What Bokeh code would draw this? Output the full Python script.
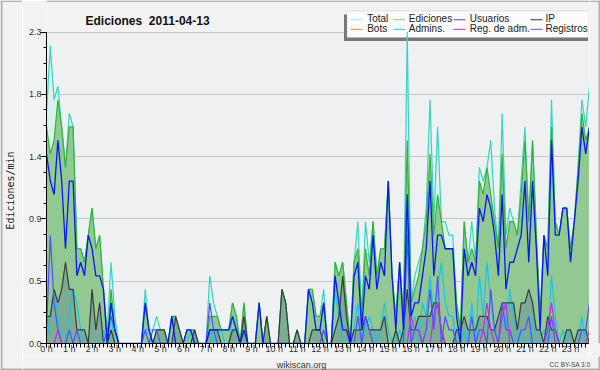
from math import pi
from bokeh.plotting import figure
from bokeh.layouts import row, column
from bokeh.models import Label, BoxAnnotation, FixedTicker, Range1d, PrintfTickFormatter
from bokeh.embed import file_html
from bokeh.resources import INLINE

# 10-minute slots across the day, in hours
slots = [i / 6 for i in range(144)]
hour_ticks = list(range(24))
hour_labels = [f"{h} h" for h in hour_ticks]
y_ticks = [0.0, 0.46, 0.92, 1.38, 1.84, 2.3]
y_minor = [i * 0.115 for i in range(21)]

title_text = "Ediciones\u00a0 2011-04-13"
y_label = "Ediciones/min"
site_text = "wikiscan.org"
licence_text = "CC BY-SA 3.0"

total = [1.7, 2.2, 1.8, 1.9, 1.6, 1.3, 1.7, 1.6, 0.7, 0.7,
         0.6, 0.8, 1.0, 0.7, 0.8, 0.4, 0.1, 0.6, 0.2, 0.0,
         0.0, 0.0, 0.0, 0.0, 0.0, 0.0, 0.4, 0.1, 0.1, 0.2,
         0.1, 0.1, 0.0, 0.2, 0.2, 0.1, 0.0, 0.1, 0.1, 0.1,
         0.0, 0.0, 0.0, 0.5, 0.3, 0.2, 0.1, 0.1, 0.1, 0.3,
         0.2, 0.0, 0.3, 0.0, 0.0, 0.0, 0.3, 0.0, 0.2, 0.0,
         0.0, 0.0, 0.4, 0.3, 0.0, 0.0, 0.1, 0.0, 0.0, 0.4,
         0.4, 0.2, 0.2, 0.4, 0.0, 0.0, 0.6, 0.5, 0.6, 0.3,
         0.0, 0.6, 0.9, 0.2, 0.9, 0.6, 0.9, 0.5, 0.7, 0.7,
         1.2, 0.5, 0.2, 0.6, 0.2, 2.3, 0.3, 0.5, 0.6, 0.7,
         1.0, 1.8, 0.9, 1.6, 0.9, 0.9, 0.8, 0.8, 0.3, 0.1,
         0.9, 0.6, 0.9, 0.6, 1.3, 1.2, 1.3, 1.5, 1.0, 0.7,
         1.7, 0.8, 1.0, 0.9, 0.8, 1.2, 1.6, 0.9, 1.5, 0.8,
         0.2, 0.8, 0.7, 1.8, 0.9, 0.8, 1.0, 1.0, 0.7, 0.9,
         1.3, 1.8, 1.6, 1.9]

edits = [1.6, 1.4, 1.5, 1.8, 1.6, 1.3, 1.6, 1.6, 0.7, 0.7,
         0.6, 0.8, 1.0, 0.7, 0.8, 0.4, 0.0, 0.4, 0.1, 0.0,
         0.0, 0.0, 0.0, 0.0, 0.0, 0.0, 0.3, 0.1, 0.0, 0.1,
         0.1, 0.1, 0.0, 0.2, 0.2, 0.1, 0.0, 0.1, 0.1, 0.1,
         0.0, 0.0, 0.0, 0.2, 0.2, 0.2, 0.1, 0.1, 0.1, 0.3,
         0.2, 0.0, 0.3, 0.0, 0.0, 0.0, 0.3, 0.0, 0.2, 0.0,
         0.0, 0.0, 0.4, 0.3, 0.0, 0.0, 0.1, 0.0, 0.0, 0.4,
         0.4, 0.2, 0.2, 0.3, 0.0, 0.0, 0.6, 0.5, 0.6, 0.3,
         0.0, 0.6, 0.7, 0.2, 0.7, 0.5, 0.9, 0.5, 0.7, 0.7,
         1.2, 0.5, 0.2, 0.6, 0.2, 1.5, 0.3, 0.4, 0.5, 0.7,
         0.9, 1.4, 0.8, 1.1, 0.9, 0.7, 0.7, 0.7, 0.3, 0.1,
         0.9, 0.6, 0.7, 0.6, 1.2, 1.1, 1.3, 1.1, 0.9, 0.7,
         1.4, 0.7, 0.9, 0.9, 0.8, 1.1, 1.5, 0.9, 1.5, 0.8,
         0.2, 0.8, 0.7, 1.6, 0.9, 0.8, 1.0, 1.0, 0.7, 0.9,
         1.3, 1.7, 1.5, 1.6]

users = [1.4, 1.2, 1.1, 1.5, 1.2, 0.7, 1.2, 1.2, 0.5, 0.6,
         0.5, 0.8, 0.7, 0.5, 0.5, 0.4, 0.0, 0.3, 0.1, 0.0,
         0.0, 0.0, 0.0, 0.0, 0.0, 0.0, 0.3, 0.1, 0.0, 0.0,
         0.0, 0.0, 0.0, 0.2, 0.0, 0.0, 0.0, 0.1, 0.1, 0.0,
         0.0, 0.0, 0.0, 0.1, 0.1, 0.1, 0.1, 0.1, 0.1, 0.2,
         0.1, 0.0, 0.1, 0.0, 0.0, 0.0, 0.3, 0.0, 0.0, 0.0,
         0.0, 0.0, 0.0, 0.0, 0.0, 0.0, 0.0, 0.0, 0.0, 0.4,
         0.3, 0.1, 0.1, 0.3, 0.0, 0.0, 0.5, 0.3, 0.1, 0.1,
         0.0, 0.5, 0.6, 0.1, 0.5, 0.4, 0.8, 0.4, 0.6, 0.5,
         1.2, 0.5, 0.1, 0.6, 0.1, 1.1, 0.2, 0.3, 0.3, 0.5,
         0.7, 1.2, 0.5, 0.8, 0.8, 0.7, 0.7, 0.7, 0.2, 0.0,
         0.7, 0.5, 0.6, 0.5, 1.0, 0.9, 1.1, 1.0, 0.8, 0.5,
         1.1, 0.4, 0.6, 0.6, 0.7, 0.8, 1.2, 0.6, 1.2, 0.7,
         0.1, 0.8, 0.5, 1.5, 0.8, 0.8, 1.0, 1.0, 0.6, 0.9,
         1.2, 1.6, 1.4, 1.6]

ip = [0.2, 0.2, 0.4, 0.3, 0.4, 0.6, 0.4, 0.4, 0.1, 0.1,
      0.1, 0.0, 0.4, 0.1, 0.3, 0.0, 0.0, 0.1, 0.0, 0.0,
      0.0, 0.0, 0.0, 0.0, 0.0, 0.0, 0.0, 0.0, 0.0, 0.1,
      0.1, 0.1, 0.0, 0.0, 0.2, 0.1, 0.0, 0.0, 0.0, 0.1,
      0.0, 0.0, 0.0, 0.1, 0.1, 0.1, 0.0, 0.0, 0.0, 0.1,
      0.1, 0.0, 0.2, 0.0, 0.0, 0.0, 0.0, 0.0, 0.2, 0.0,
      0.0, 0.0, 0.4, 0.3, 0.0, 0.0, 0.1, 0.0, 0.0, 0.0,
      0.1, 0.1, 0.1, 0.0, 0.0, 0.0, 0.1, 0.2, 0.5, 0.2,
      0.0, 0.1, 0.1, 0.1, 0.2, 0.1, 0.1, 0.1, 0.1, 0.2,
      0.0, 0.0, 0.1, 0.0, 0.1, 0.4, 0.1, 0.1, 0.2, 0.2,
      0.2, 0.2, 0.3, 0.3, 0.1, 0.0, 0.0, 0.0, 0.1, 0.1,
      0.2, 0.1, 0.1, 0.1, 0.2, 0.2, 0.2, 0.1, 0.1, 0.2,
      0.3, 0.3, 0.3, 0.3, 0.1, 0.3, 0.3, 0.4, 0.3, 0.1,
      0.1, 0.0, 0.2, 0.1, 0.1, 0.0, 0.0, 0.1, 0.1, 0.0,
      0.1, 0.1, 0.1, 0.0]

bots = [0.0, 0.0, 0.0, 0.0, 0.0, 0.0, 0.0, 0.0, 0.0, 0.0,
        0.0, 0.0, 0.0, 0.0, 0.0, 0.0, 0.0, 0.0, 0.0, 0.0,
        0.0, 0.0, 0.0, 0.0, 0.0, 0.0, 0.0, 0.0, 0.0, 0.0,
        0.0, 0.0, 0.0, 0.0, 0.0, 0.0, 0.0, 0.0, 0.0, 0.0,
        0.0, 0.0, 0.0, 0.0, 0.0, 0.0, 0.0, 0.0, 0.0, 0.0,
        0.0, 0.0, 0.0, 0.0, 0.0, 0.0, 0.0, 0.0, 0.0, 0.0,
        0.0, 0.0, 0.0, 0.0, 0.0, 0.0, 0.0, 0.0, 0.0, 0.0,
        0.0, 0.0, 0.0, 0.0, 0.0, 0.0, 0.0, 0.0, 0.0, 0.0,
        0.0, 0.0, 0.0, 0.0, 0.0, 0.0, 0.0, 0.0, 0.0, 0.0,
        0.0, 0.0, 0.0, 0.0, 0.0, 0.0, 0.0, 0.0, 0.0, 0.0,
        0.0, 0.0, 0.0, 0.0, 0.0, 0.0, 0.0, 0.0, 0.0, 0.0,
        0.0, 0.0, 0.0, 0.0, 0.0, 0.0, 0.0, 0.0, 0.0, 0.0,
        0.0, 0.0, 0.0, 0.0, 0.0, 0.0, 0.0, 0.0, 0.0, 0.0,
        0.0, 0.0, 0.0, 0.0, 0.0, 0.0, 0.0, 0.0, 0.0, 0.0,
        0.0, 0.0, 0.0, 0.0]

admins = [0.0, 0.2, 0.4, 0.2, 0.0, 0.0, 0.2, 0.4, 0.3, 0.1,
          0.0, 0.0, 0.0, 0.0, 0.0, 0.1, 0.0, 0.2, 0.0, 0.0,
          0.0, 0.0, 0.0, 0.0, 0.0, 0.0, 0.1, 0.1, 0.0, 0.0,
          0.0, 0.0, 0.0, 0.2, 0.0, 0.0, 0.0, 0.0, 0.1, 0.0,
          0.0, 0.0, 0.0, 0.1, 0.0, 0.1, 0.1, 0.0, 0.0, 0.2,
          0.1, 0.0, 0.1, 0.0, 0.0, 0.0, 0.0, 0.0, 0.0, 0.0,
          0.0, 0.0, 0.0, 0.0, 0.0, 0.0, 0.0, 0.0, 0.0, 0.0,
          0.0, 0.0, 0.0, 0.1, 0.0, 0.0, 0.4, 0.2, 0.0, 0.0,
          0.0, 0.1, 0.3, 0.0, 0.1, 0.2, 0.1, 0.0, 0.1, 0.3,
          0.1, 0.0, 0.0, 0.1, 0.0, 0.9, 0.1, 0.2, 0.0, 0.3,
          0.2, 0.5, 0.2, 0.4, 0.6, 0.3, 0.2, 0.2, 0.0, 0.0,
          0.1, 0.0, 0.3, 0.0, 0.5, 0.2, 0.6, 0.3, 0.1, 0.0,
          0.2, 0.1, 0.4, 0.2, 0.0, 0.1, 0.0, 0.0, 0.2, 0.0,
          0.0, 0.1, 0.0, 0.5, 0.2, 0.0, 0.1, 0.0, 0.1, 0.0,
          0.0, 0.2, 0.0, 0.0]

admin_logs = [0.0, 0.0, 0.0, 0.1, 0.0, 0.0, 0.0, 0.0, 0.0, 0.0,
              0.0, 0.0, 0.0, 0.0, 0.0, 0.0, 0.0, 0.0, 0.0, 0.0,
              0.0, 0.0, 0.0, 0.0, 0.0, 0.0, 0.0, 0.0, 0.0, 0.0,
              0.0, 0.0, 0.0, 0.0, 0.0, 0.0, 0.0, 0.0, 0.0, 0.0,
              0.0, 0.0, 0.0, 0.0, 0.0, 0.0, 0.0, 0.0, 0.0, 0.0,
              0.0, 0.0, 0.0, 0.0, 0.0, 0.0, 0.0, 0.0, 0.0, 0.0,
              0.0, 0.0, 0.0, 0.0, 0.0, 0.0, 0.0, 0.0, 0.0, 0.0,
              0.0, 0.0, 0.0, 0.0, 0.0, 0.0, 0.0, 0.0, 0.0, 0.0,
              0.0, 0.0, 0.0, 0.0, 0.0, 0.0, 0.0, 0.0, 0.0, 0.0,
              0.0, 0.0, 0.0, 0.0, 0.0, 0.0, 0.2, 0.1, 0.1, 0.0,
              0.0, 0.0, 0.2, 0.3, 0.1, 0.0, 0.0, 0.0, 0.0, 0.0,
              0.0, 0.0, 0.0, 0.0, 0.0, 0.1, 0.3, 0.1, 0.0, 0.0,
              0.2, 0.3, 0.0, 0.0, 0.0, 0.0, 0.0, 0.0, 0.0, 0.0,
              0.0, 0.0, 0.1, 0.3, 0.1, 0.0, 0.0, 0.0, 0.0, 0.0,
              0.0, 0.0, 0.0, 0.1]

logs = [0.1, 0.8, 0.3, 0.1, 0.0, 0.0, 0.1, 0.0, 0.1, 0.0,
        0.0, 0.0, 0.0, 0.0, 0.0, 0.0, 0.1, 0.2, 0.1, 0.0,
        0.0, 0.0, 0.0, 0.0, 0.0, 0.0, 0.1, 0.0, 0.1, 0.1,
        0.0, 0.0, 0.0, 0.0, 0.0, 0.0, 0.0, 0.0, 0.0, 0.0,
        0.0, 0.0, 0.0, 0.3, 0.1, 0.0, 0.0, 0.0, 0.0, 0.0,
        0.0, 0.0, 0.0, 0.0, 0.0, 0.0, 0.0, 0.0, 0.0, 0.0,
        0.0, 0.0, 0.0, 0.0, 0.0, 0.0, 0.0, 0.0, 0.0, 0.0,
        0.0, 0.0, 0.0, 0.1, 0.0, 0.0, 0.0, 0.0, 0.0, 0.0,
        0.0, 0.0, 0.2, 0.0, 0.2, 0.1, 0.0, 0.0, 0.0, 0.0,
        0.0, 0.0, 0.0, 0.0, 0.0, 0.8, 0.0, 0.1, 0.1, 0.0,
        0.1, 0.4, 0.1, 0.5, 0.0, 0.2, 0.1, 0.1, 0.0, 0.0,
        0.0, 0.0, 0.2, 0.0, 0.1, 0.1, 0.0, 0.4, 0.1, 0.0,
        0.3, 0.1, 0.1, 0.0, 0.0, 0.1, 0.1, 0.2, 0.0, 0.0,
        0.0, 0.0, 0.0, 0.2, 0.0, 0.0, 0.0, 0.0, 0.0, 0.0,
        0.0, 0.1, 0.1, 0.3]

legend_names = ["Total", "Ediciones", "Usuarios", "IP",
                "Bots", "Admins.", "Reg. de adm.", "Registros"]
legend_colors = ["#a8e4dc", "#86cc86", "#4a4ae6", "#333333",
                 "#f0a040", "#48d0e6", "#c84ae0", "#7878f4"]

OUTER = "#f2f2f2"
EDGE = "#b0b0b0"

# ---------------------------------------------------------------
# main chart: frame runs from the canvas top down to the x axis, so the
# title and the legend (which sit above the 2.3 line) are inside the frame
x_end = 143 / 6
y_top = 2.3 * 344 / 312.3
px_x = x_end / 543      # hours per pixel
px_y = y_top / 344      # units per pixel

p = figure(width=567, height=356, output_backend="svg", toolbar_location=None,
           title=None, x_range=Range1d(0, x_end), y_range=Range1d(0, y_top),
           min_border_left=24, min_border_right=0, min_border_top=0,
           min_border_bottom=12)
p.outline_line_color = None
p.background_fill_color = "#eef0f2"
p.border_fill_color = OUTER
p.xgrid.visible = False
p.ygrid.ticker = FixedTicker(ticks=y_ticks)
p.ygrid.grid_line_color = "#c6c6c6"
p.ygrid.grid_line_width = 1

p.yaxis.ticker = FixedTicker(ticks=y_ticks, minor_ticks=y_minor)
p.yaxis.formatter = PrintfTickFormatter(format="%.1f")
p.yaxis.bounds = (0, 2.3)
p.yaxis.major_tick_out = 6
p.yaxis.minor_tick_out = 3
p.yaxis.major_label_standoff = -1

p.xaxis.ticker = FixedTicker(ticks=hour_ticks, minor_ticks=slots)
p.xaxis.major_label_overrides = dict(zip(hour_ticks, hour_labels))
p.xaxis.bounds = (0, x_end)
p.xaxis.major_tick_out = 4
p.xaxis.minor_tick_out = 4
p.xaxis.major_label_standoff = -4

for ax in (p.xaxis, p.yaxis):
    ax.axis_line_color = "black"
    ax.axis_line_width = 1
    ax.major_tick_line_color = "black"
    ax.minor_tick_line_color = "black"
    ax.major_tick_in = 0
    ax.minor_tick_in = 0
    ax.major_label_text_font = "Liberation Sans"
    ax.major_label_text_font_size = "9px"
    ax.major_label_text_color = "#333333"

# strip above the 2.3 line gets the outer colour, with the picture's top edge
p.add_layout(BoxAnnotation(bottom=2.3 + 0.6 * px_y, fill_color=OUTER,
                           fill_alpha=1, line_color=None, level="underlay"))
p.add_layout(BoxAnnotation(bottom=y_top - 1.5 * px_y, fill_color=EDGE,
                           fill_alpha=1, line_color=None, level="underlay"))

# legend box with shadow (under the glyphs; nothing of the data reaches it)
p.add_layout(BoxAnnotation(left=297.5, right=541.5, top=329, bottom=302.5,
                           left_units="screen", right_units="screen",
                           top_units="screen", bottom_units="screen",
                           fill_color="#777777", fill_alpha=1, line_color=None,
                           level="underlay"))
p.add_layout(BoxAnnotation(left=300.5, right=542.5, top=332.5, bottom=306,
                           left_units="screen", right_units="screen",
                           top_units="screen", bottom_units="screen",
                           fill_color="#fbfbfb", fill_alpha=1,
                           line_color="#b0b0b0", line_width=1, level="underlay"))

# areas
p.varea(x=slots, y1=0, y2=total, fill_color="#daf2ee")
p.varea(x=slots, y1=0, y2=edits, fill_color="#92c892")
p.varea(x=slots, y1=0, y2=ip, fill_color="#4c6c9c", fill_alpha=0.3)

# lines
p.line(slots, total, line_color="#3cd2c2", line_width=1.2)
p.line(slots, edits, line_color="#38b238", line_width=1.2)
p.line(slots, bots, line_color="#f0a040", line_width=1.2)
p.line(slots, admins, line_color="#1cc4e4", line_width=1.2)
p.line(slots, ip, line_color="#3a3a3a", line_width=1.2)
p.line(slots, logs, line_color="#5050ff", line_width=1.2)
p.line(slots, admin_logs, line_color="#c030e0", line_width=1.2)
p.line(slots, users, line_color="#0818f0", line_width=1.3)

# title (screen units relative to the frame: left edge x=46, bottom y=344)
p.add_layout(Label(x=39, y=322.5, x_units="screen", y_units="screen", text=title_text,
                   text_font="Liberation Sans", text_font_style="bold",
                   text_font_size="12px", text_color="#111111",
                   text_baseline="alphabetic"))

# legend entries
sw_left = [304, 346.7, 407, 484]
tx_left = [320.7, 362.3, 423.3, 499]
row_y = [324.7, 315]
sx0, sx1, sy = [], [], []
for i, name in enumerate(legend_names):
    r, c = divmod(i, 4)
    sx0.append(sw_left[c] * px_x)
    sx1.append((sw_left[c] + 12) * px_x)
    sy.append(row_y[r] * px_y)
    p.add_layout(Label(x=tx_left[c], y=row_y[r], x_units="screen", y_units="screen",
                       text=name, text_baseline="middle", text_font="Liberation Sans",
                       text_font_size="10px", text_color="#222222"))
p.segment(x0=sx0, y0=sy, x1=sx1, y1=sy, line_color=legend_colors, line_width=1.2)


def strip(w, h):
    f = figure(width=w, height=h, output_backend="svg", toolbar_location=None,
               title=None, x_axis_type=None, y_axis_type=None,
               x_range=Range1d(0, w), y_range=Range1d(0, h), min_border=0)
    f.outline_line_color = None
    f.background_fill_color = OUTER
    f.border_fill_color = OUTER
    return f


# left strip holding the vertical axis title (page pixels: x 0..22)
left = strip(22, 370)
left.add_layout(BoxAnnotation(right=2, fill_color=EDGE, fill_alpha=1, line_color=None))
left.add_layout(BoxAnnotation(bottom=368.5, fill_color=EDGE, fill_alpha=1, line_color=None))
left.add_layout(BoxAnnotation(top=2, fill_color=EDGE, fill_alpha=1, line_color=None))
left.add_layout(Label(x=10, y=180, text=y_label, angle=pi / 2,
                      text_align="center", text_baseline="middle",
                      text_font="DejaVu Sans Mono", text_font_size="10px",
                      text_color="#222222"))

# right strip (page pixels: x 589..600, y 0..356)
right = strip(11, 356)
right.add_layout(BoxAnnotation(left=9, fill_color=EDGE, fill_alpha=1, line_color=None))
right.add_layout(BoxAnnotation(bottom=354.5, fill_color=EDGE, fill_alpha=1, line_color=None))

# bottom strip holding the credits (page pixels: x 22..600, y 356..370)
bottom = strip(578, 14)
bottom.add_layout(BoxAnnotation(top=2, fill_color=EDGE, fill_alpha=1, line_color=None))
bottom.add_layout(BoxAnnotation(left=576, fill_color=EDGE, fill_alpha=1, line_color=None))
bottom.add_layout(Label(x=279, y=5.5, text=site_text, text_align="center",
                        text_baseline="alphabetic", text_font="Liberation Sans",
                        text_font_size="9px", text_color="#333333"))
bottom.add_layout(Label(x=568, y=6, text=licence_text, text_align="right",
                        text_baseline="alphabetic", text_font="Liberation Sans",
                        text_font_size="6.5px", text_color="#444444"))

layout = row(left, column(row(p, right), bottom))
open("out.html", "w").write(file_html(layout, INLINE))
